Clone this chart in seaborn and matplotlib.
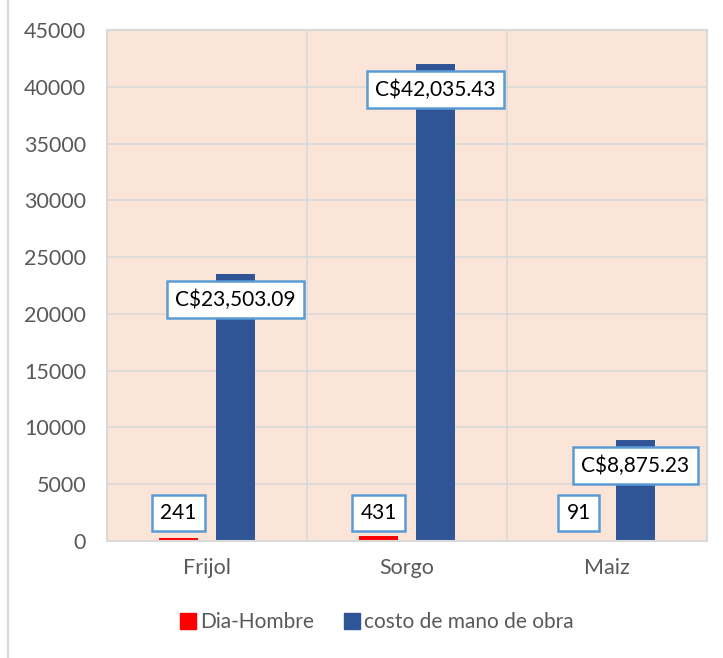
import pandas as pd
import matplotlib.pyplot as plt
import seaborn as sns
from matplotlib.lines import Line2D
from matplotlib.patches import Rectangle

# Datos
cultivos = ["Frijol", "Sorgo", "Maiz"]
dia_hombre = [241, 431, 91]
costo_mano_obra = [23503.09, 42035.43, 8875.23]
series = ["Dia-Hombre", "costo de mano de obra"]
y_ticks = [0, 5000, 10000, 15000, 20000, 25000, 30000, 35000, 40000, 45000]

df = pd.DataFrame({
    "cultivo": cultivos * 2,
    "serie": [series[0]] * 3 + [series[1]] * 3,
    "valor": dia_hombre + costo_mano_obra,
})

colores = {"Dia-Hombre": "#FF0000", "costo de mano de obra": "#2F5597"}

sns.set_style("white")
plt.rcParams["font.family"] = ["Lato", "DejaVu Sans"]

fig = plt.figure(figsize=(7.23, 6.58), dpi=100)
ax = fig.add_axes([0.148, 0.178, 0.83, 0.776])
ax.set_facecolor("#FAE5D8")

sns.barplot(data=df, x="cultivo", y="valor", hue="serie", palette=colores,
            width=0.57, gap=0.33, saturation=1, linewidth=0, edgecolor="none",
            ax=ax, legend=False, errorbar=None)

ax.set_ylim(0, 45000)
ax.set_yticks(y_ticks)
ax.set_yticklabels([str(t) for t in y_ticks])
ax.set_xlim(-0.5, 2.5)
ax.set_xlabel("")
ax.set_ylabel("")
ax.tick_params(axis="both", length=0, labelsize=15.5, colors="#595959")
ax.tick_params(axis="y", pad=15)
ax.tick_params(axis="x", pad=12)

# Rejilla
ax.set_axisbelow(True)
ax.yaxis.grid(True, color="#D9D9D9", linewidth=1.2)
for xb in [0.5, 1.5]:
    ax.axvline(xb, color="#D9D9D9", linewidth=1.2, zorder=0.5)
for s in ax.spines.values():
    s.set_color("#D9D9D9")
    s.set_linewidth(1.5)

# Etiquetas de datos
caja = dict(boxstyle="square,pad=0.4", facecolor="white", edgecolor="#5B9BD5", linewidth=1.8)
off = 0.142
for i, (d, c) in enumerate(zip(dia_hombre, costo_mano_obra)):
    ax.text(i - off, 2450, f"{d}", ha="center", va="center", fontsize=15,
            color="black", bbox=caja, zorder=5)
    ax.text(i + off, c - 2250, f"C${c:,.2f}", ha="center", va="center", fontsize=15,
            color="black", bbox=caja, zorder=5)

# Leyenda
handles = [Line2D([0], [0], marker="s", linestyle="", markersize=11,
                  markerfacecolor=colores[s], markeredgecolor=colores[s]) for s in series]
fig.legend(handles, series, loc="center", bbox_to_anchor=(0.52, 0.054), ncol=2,
           frameon=False, fontsize=15, labelcolor="#595959", handletextpad=0.1,
           columnspacing=1.4, handlelength=0.9)

# Borde del gráfico
fig.patches.append(Rectangle((0.011, -0.01), 1.2, 1.2, transform=fig.transFigure,
                             fill=False, edgecolor="#D9D9D9", linewidth=1.5))

fig.savefig("out.png", dpi=100)
